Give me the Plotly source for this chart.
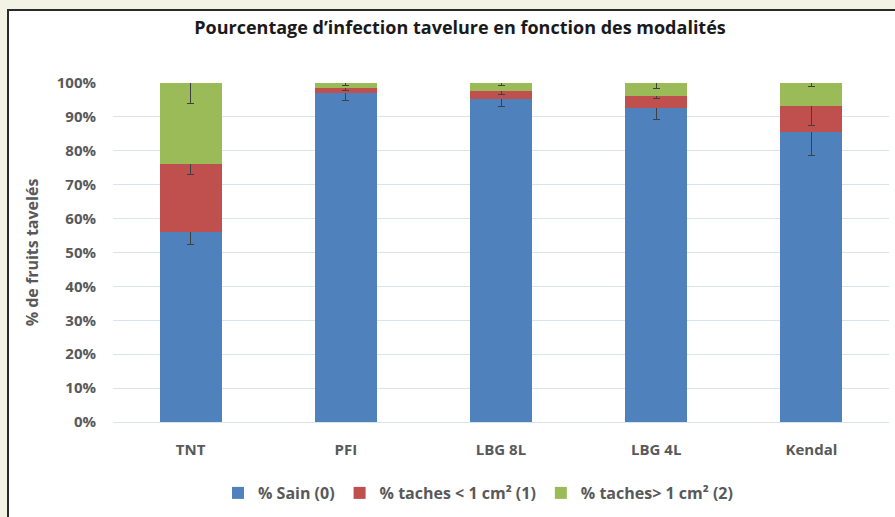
import plotly.graph_objects as go

categories = ["TNT", "PFI", "LBG 8L", "LBG 4L", "Kendal"]
sain = [56.0, 97.0, 95.2, 92.5, 85.6]
taches_petites = [20.0, 1.5, 2.5, 3.7, 7.6]
taches_grandes = [24.0, 1.5, 2.3, 3.8, 6.8]
err_sain = [3.6, 2.3, 2.0, 3.4, 7.0]
err_petites = [3.0, 0.7, 1.0, 0.8, 5.7]
err_grandes = [6.0, 0.7, 0.8, 1.5, 1.0]
y_ticks = list(range(0, 101, 10))
y_tick_labels = [f"{v}%" for v in y_ticks]

series_names = ["% Sain (0)", "% taches < 1 cm² (1)", "% taches> 1 cm² (2)"]
colors = ["#4F81BD", "#C0504D", "#9BBB59"]

fig = go.Figure()
for name, vals, errs, col in zip(series_names, [sain, taches_petites, taches_grandes],
                                 [err_sain, err_petites, err_grandes], colors):
    fig.add_trace(go.Bar(
        x=categories, y=vals, name=name, marker_color=col, marker_line_width=0,
        error_y=dict(type="data", array=errs, color="#404040", thickness=1, width=3.5),
    ))

W, H = 895, 517
L, R, T, B = 113, 6, 83, 95
pw, ph = W - L - R, H - T - B

def px(x):
    return (x - L) / pw

def py(y):
    return (H - B - y) / ph

FONT = "Open Sans"
GRAY = "#595959"

fig.update_layout(
    width=W, height=H,
    barmode="stack", bargap=0.6,
    paper_bgcolor="#F3F3E5", plot_bgcolor="rgba(0,0,0,0)",
    margin=dict(l=L, r=R, t=T, b=B, autoexpand=False),
    font=dict(family=FONT, color=GRAY),
    title=dict(text="<b>Pourcentage d’infection tavelure en fonction des modalités</b>",
               x=460 / W, xanchor="center", y=1 - 28 / H, yanchor="middle",
               xref="container", yref="container",
               font=dict(family=FONT, size=18, color="#1a1a1a")),
    xaxis=dict(showgrid=False, showline=True, linecolor="#D9E4F1", linewidth=1,
               tickfont=dict(family=FONT, size=15, color=GRAY, weight="bold"),
               ticks="", ticklabelstandoff=14),
    yaxis=dict(range=[0, 100], tickvals=y_ticks, ticktext=y_tick_labels,
               showgrid=True, gridcolor="#D9E4F1", gridwidth=1, zeroline=False,
               tickfont=dict(family=FONT, size=15, color=GRAY, weight="bold"),
               ticks="", ticklabelstandoff=16,
               title=dict(text="<b>% de fruits tavelés</b>", standoff=14,
                          font=dict(family=FONT, size=16, color=GRAY))),
    legend=dict(orientation="h", x=px(478), xanchor="center", y=py(493), yanchor="middle",
                font=dict(family=FONT, size=16, color=GRAY, weight="bold"),
                traceorder="normal", itemwidth=30, bgcolor="rgba(0,0,0,0)"),
    shapes=[dict(type="rect", xref="paper", yref="paper", layer="below",
                 x0=px(8), x1=px(905), y0=py(530), y1=py(10),
                 fillcolor="white", line=dict(color="#2a2a2a", width=2))],
)

fig.write_html("out.html", config={"displayModeBar": False},
               post_script="document.body.style.margin='0';")
